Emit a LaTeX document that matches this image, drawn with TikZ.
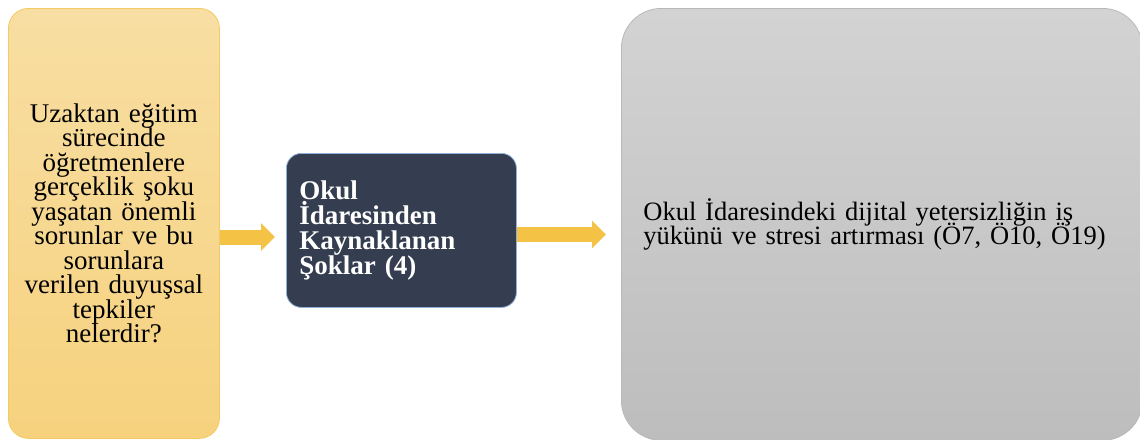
\documentclass[tikz,border=0pt]{standalone}
\usepackage{fontspec}
\setmainfont{Liberation Serif}
\usetikzlibrary{arrows.meta}
\definecolor{sandtop}{HTML}{F8DEA3}
\definecolor{sandbot}{HTML}{F6D27E}
\definecolor{sandedge}{HTML}{F3CB62}
\definecolor{slate}{HTML}{353E50}
\definecolor{slateedge}{HTML}{8FB0D8}
\definecolor{greytop}{HTML}{D3D3D3}
\definecolor{greybot}{HTML}{BDBDBD}
\definecolor{greyedge}{HTML}{B8B8B8}
\definecolor{gold}{HTML}{F4C345}
\newcommand{\tightsize}[2]{\fontsize{#1}{#2}\selectfont\lineskiplimit=-30pt}

\begin{document}
\begin{tikzpicture}[x = 1pt, y = -1pt,
  question/.style = {anchor = north west, inner sep = 0pt, rounded corners = 20pt,
    top color = sandtop, bottom color = sandbot, draw = sandedge, line width = .8pt,
    minimum width = 211pt, minimum height = 430pt, text width = 200pt,
    align = center, font = \tightsize{27}{24.5}},
  theme/.style = {anchor = north west, inner xsep = 13pt, inner ysep = 0pt,
    rounded corners = 15pt, fill = slate, draw = slateedge, line width = .8pt,
    minimum width = 230pt, minimum height = 154pt, text width = 204pt,
    align = left, text = white, font = \bfseries\tightsize{27}{25}},
  finding/.style = {anchor = north west, inner xsep = 22pt, inner ysep = 0pt,
    rounded corners = 40pt, top color = greytop, bottom color = greybot,
    draw = greyedge, line width = .8pt, minimum width = 521pt,
    minimum height = 432pt, text width = 477pt, align = left,
    font = \tightsize{26.5}{24}},
  fatarrow/.style = {draw = gold, line width = 15pt,
    -{Triangle[length = 14pt, width = 27pt]}}]
 \useasboundingbox (0, 0) rectangle (1140, 439);
 \node[question] (sand) at (8, 8) {Uzaktan eğitim\\ sürecinde\\ öğretmenlere\\
   gerçeklik şoku\\ yaşatan önemli\\ sorunlar ve bu\\ sorunlara\\
   verilen duyuşsal\\ tepkiler\\ nelerdir?};
 \node[theme] (slatebox) at (286, 153) {Okul\\ İdaresinden\\ Kaynaklanan\\ Şoklar (4)};
 \node[finding] (greybox) at (621, 8) {Okul İdaresindeki dijital yetersizliğin iş\\
   yükünü ve stresi artırması (Ö7, Ö10, Ö19)};
 \coordinate (tipa) at (275, 237);
 \coordinate (tipb) at (606, 234.5);
 \draw[fatarrow] (sand.east |- tipa) -- (tipa);
 \draw[fatarrow] (slatebox.east |- tipb) -- (tipb);
\end{tikzpicture}
\end{document}
